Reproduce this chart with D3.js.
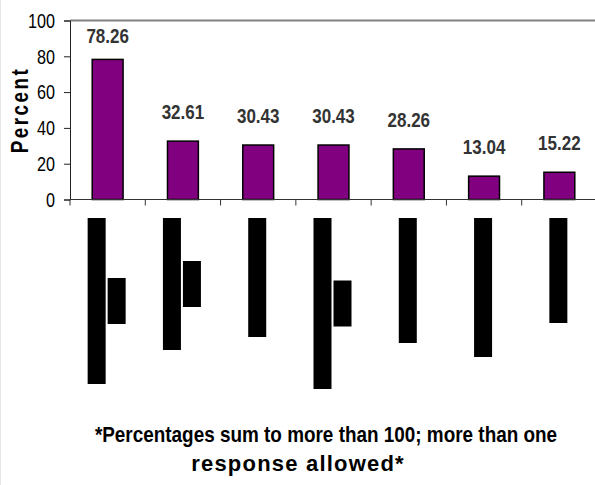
<!DOCTYPE html>
<html>
<head>
<meta charset="utf-8">
<script src="https://cdn.jsdelivr.net/npm/d3@7"></script>
<style>
  html, body { margin: 0; padding: 0; background: #fff; }
  svg { display: block; }
  text { font-family: 'Liberation Sans', Arial, sans-serif; }
</style>
</head>
<body>
<svg id="chart" width="595" height="485"></svg>
<script>
// Survey responses, percent of respondents (multiple answers allowed)
const categories = ["c1", "c2", "c3", "c4", "c5", "c6", "c7"];
const percents = [78.26, 32.61, 30.43, 30.43, 28.26, 13.04, 15.22];
const yTicks = [0, 20, 40, 60, 80, 100];
const yLabel = "Percent";
const footnote = ["*Percentages sum to more than 100; more than one", "response allowed*"];

// Category labels are blacked out; each entry lists the rotated line lengths (px)
const redactedLabelLines = [[166, 46], [132, 46], [119], [171, 46], [125], [139], [105]];

const svg = d3.select("#chart");
const W = 595, H = 485;
const plot = { left: 70, right: 597, top: 20.5, bottom: 199.5 };

const x = d3.scaleBand().domain(categories).range([plot.left, plot.right]).paddingInner(0.59).paddingOuter(0.295);
const xOuter = d3.scaleBand().domain(categories).range([plot.left, plot.right]);
const y = d3.scaleLinear().domain([0, 100]).range([plot.bottom, plot.top]);

// faint outer frame on the left edge
svg.append("line").attr("x1", 0.5).attr("x2", 0.5).attr("y1", 0).attr("y2", H)
  .attr("stroke", "#e6e6e6").attr("stroke-width", 1);

// plot area top border
svg.append("line").attr("x1", plot.left).attr("x2", W).attr("y1", y(100)).attr("y2", y(100))
  .attr("stroke", "#808080").attr("stroke-width", 2);

// bars
svg.append("g").selectAll("rect").data(percents).join("rect")
  .attr("x", (d, i) => x(categories[i]))
  .attr("y", d => y(d))
  .attr("width", x.bandwidth())
  .attr("height", d => y(0) - y(d))
  .attr("fill", "#800080")
  .attr("stroke", "#000")
  .attr("stroke-width", 1.5);

// value labels (condensed bold)
svg.append("g").selectAll("text").data(percents).join("text")
  .attr("transform", (d, i) =>
    `translate(${x(categories[i]) + x.bandwidth() / 2},${Math.max(y(d) - 22, 43)}) scale(0.85,1)`)
  .attr("text-anchor", "middle")
  .attr("font-size", 20)
  .attr("font-weight", "bold")
  .attr("fill", "#333")
  .text(d => d.toFixed(2));

// y axis
const yAxis = svg.append("g")
  .attr("transform", `translate(${plot.left},0)`)
  .call(d3.axisLeft(y).tickValues(yTicks).tickSize(6).tickPadding(9).tickFormat(d3.format("d")));
yAxis.attr("font-family", null).attr("font-size", null);
yAxis.select(".domain").attr("stroke", "#222");
yAxis.selectAll(".tick line").attr("stroke", "#222");
yAxis.selectAll("text")
  .attr("x", 0)
  .attr("transform", "translate(-15,0) scale(0.77,1)")
  .attr("font-size", 21)
  .attr("fill", "#000");

// x axis: baseline with category separators below
const xAxis = svg.append("g").attr("transform", `translate(0,${plot.bottom})`);
xAxis.append("line").attr("x1", plot.left).attr("x2", W).attr("stroke", "#333").attr("stroke-width", 1);
xAxis.selectAll("line.sep").data(categories).join("line").attr("class", "sep")
  .attr("x1", d => xOuter(d)).attr("x2", d => xOuter(d))
  .attr("y1", 0).attr("y2", 6).attr("stroke", "#333");

// redacted category labels
const labelG = svg.append("g");
categories.forEach((c, i) => {
  const lines = redactedLabelLines[i];
  const cx = xOuter(c) + xOuter.bandwidth() / 2;
  const top = 218;
  const longest = d3.max(lines);
  const mid = top + longest / 2;
  const lineW = 18, gap = 2;
  const total = lines.length * lineW + (lines.length - 1) * gap;
  lines.forEach((len, j) => {
    labelG.append("rect")
      .attr("x", cx - total / 2 + j * (lineW + gap) - 1)
      .attr("y", mid - len / 2)
      .attr("width", lineW)
      .attr("height", len)
      .attr("fill", "#000");
  });
});

// y axis title (letter-spaced, condensed along its length)
svg.append("text")
  .attr("transform", `translate(27.5,${(plot.top + plot.bottom) / 2}) rotate(-90) scale(0.82,1)`)
  .attr("text-anchor", "middle")
  .attr("font-size", 23)
  .attr("font-weight", "bold")
  .attr("letter-spacing", 3)
  .attr("fill", "#000")
  .text(yLabel);

// footnote, two centred lines
const footX = [326, 298], footY = [441.5, 471], footScale = [0.86, 1.0], footSpacing = [0, 1.2];
svg.append("g").selectAll("text").data(footnote).join("text")
  .attr("transform", (d, i) => `translate(${footX[i]},${footY[i]}) scale(${footScale[i]},1)`)
  .attr("text-anchor", "middle")
  .attr("font-size", 22)
  .attr("font-weight", "bold")
  .attr("letter-spacing", (d, i) => footSpacing[i])
  .attr("fill", "#000")
  .text(d => d);
</script>
</body>
</html>
